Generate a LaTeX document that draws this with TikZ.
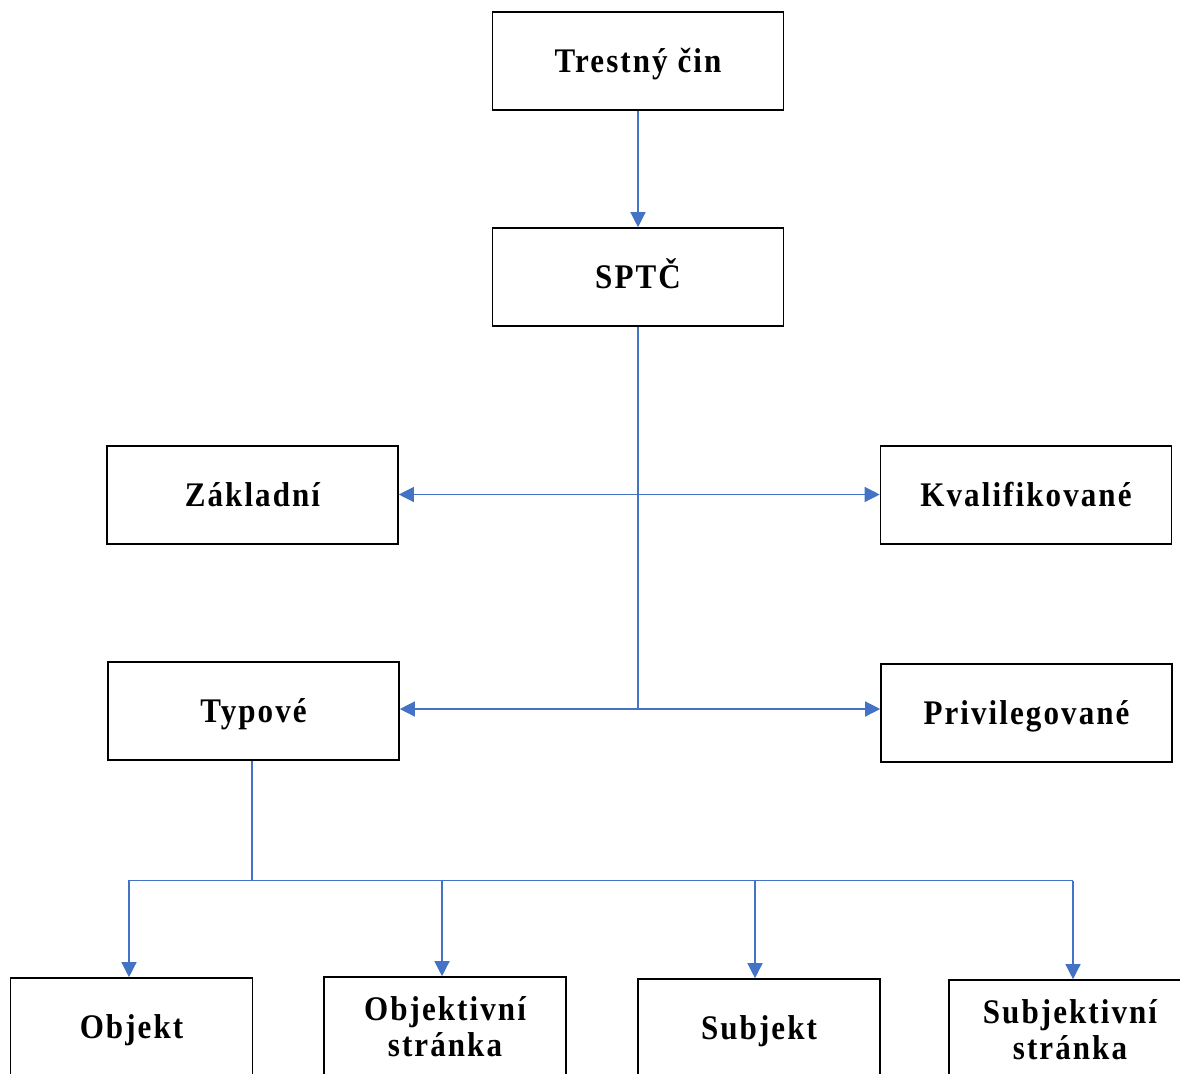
\documentclass[tikz,border=0pt]{standalone}
\usepackage{fontspec}
\newfontfamily\boxfont{Liberation Serif}[LetterSpace=6.0,FakeStretch=0.9]
\usetikzlibrary{arrows.meta}
\definecolor{linkblue}{HTML}{4472C4}
\tikzset{
  box/.style={draw=black, line width=1.6pt, minimum width=291pt, minimum height=98pt,
    inner sep=0pt, align=center, font=\boxfont\bfseries\fontsize{34.5}{36}\selectfont},
  oneline/.style={text height=23pt, text depth=0pt},
  twoline/.style={text height=61pt, text depth=0pt},
  smallbox/.style={box, minimum width=242pt},
  link/.style={draw=linkblue, line width=1.3pt},
  conn/.style={link, -{Triangle[length=15pt,width=15pt]}}
}
\begin{document}
\begin{tikzpicture}[x=1pt,y=-1pt]
\useasboundingbox (0,0) rectangle (1180,1073);
% upper levels
\node[box,oneline] (tc)  at (638,61)  {Trestný čin};
\node[box,oneline] (sp)  at (638,277) {SPTČ};
\node[box,oneline] (zak) at (252.5,495) {Základní};
\node[box,oneline] (kva) at (1026,495)  {Kvalifikované};
\node[box,oneline] (typ) at (253.5,711) {Typové};
\node[box,oneline] (pri) at (1026.5,713) {Privilegované};
% elements of the offence
\node[smallbox,oneline] (obj)  at (131.5,1027) {Objekt};
\node[smallbox,twoline] (objs) at (445,1026)   {Objektivní\\stránka};
\node[smallbox,oneline] (sub)  at (759,1028)   {Subjekt};
\node[smallbox,twoline] (subs) at (1070,1029)  {Subjektivní\\stránka};
% junction points
\coordinate (j1) at (638,494.5);
\coordinate (j2) at (638,709);
\coordinate (j3) at (252,880.5);
\coordinate (d1) at (129,880.5);
\coordinate (d2) at (442,880.5);
\coordinate (d3) at (755,880.5);
\coordinate (d4) at (1073,880.5);
% connectors
\draw[conn] (tc) -- (sp);
\draw[link] (sp.south) -- (j2);
\draw[conn] (j1) -- (zak.east |- j1);
\draw[conn] (j1) -- (kva.west |- j1);
\draw[conn] (j2) -- (typ.east |- j2);
\draw[conn] (j2) -- (pri.west |- j2);
\draw[link] (typ.south -| j3) -- (j3) -- (d4);
\draw[conn] (j3) -| (obj.north -| d1);
\draw[conn] (d2) -- (objs.north -| d2);
\draw[conn] (d3) -- (sub.north -| d3);
\draw[conn] (d4) -- (subs.north -| d4);
\end{tikzpicture}
\end{document}
